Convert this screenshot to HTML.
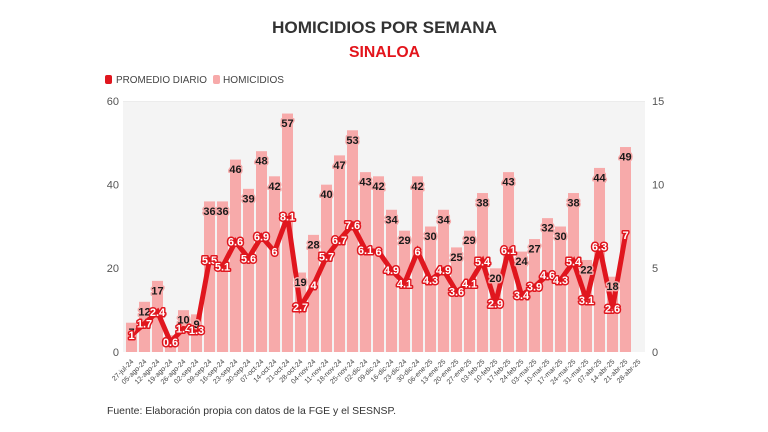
<!DOCTYPE html>
<html><head><meta charset="utf-8"><style>
html,body{margin:0;padding:0;background:#fff;}
svg{display:block;font-family:"Liberation Sans",sans-serif;}
.bl{font-size:11px;font-weight:bold;fill:#1a1a1a;stroke:#f7aaaa;stroke-width:3;paint-order:stroke;stroke-linejoin:round;text-anchor:middle;}
.ll{font-size:11px;font-weight:bold;fill:#fff;stroke:#e0161e;stroke-width:3;paint-order:stroke;stroke-linejoin:round;text-anchor:middle;}
.ax{font-size:11px;fill:#555;}
.xl{font-size:7px;fill:#444;text-anchor:end;}
</style></head><body>
<svg width="768" height="432" viewBox="0 0 768 432" xmlns="http://www.w3.org/2000/svg">
<rect width="768" height="432" fill="#fff"/>
<text x="384.5" y="33" font-size="17" font-weight="bold" fill="#333" text-anchor="middle" textLength="225" lengthAdjust="spacingAndGlyphs">HOMICIDIOS POR SEMANA</text>
<text x="384.5" y="57" font-size="16" font-weight="bold" fill="#e3141b" text-anchor="middle" textLength="71" lengthAdjust="spacingAndGlyphs">SINALOA</text>
<rect x="105" y="75" width="7" height="9" rx="2" fill="#e0161e"/>
<text x="116" y="83" font-size="10" fill="#444" textLength="91" lengthAdjust="spacingAndGlyphs">PROMEDIO DIARIO</text>
<rect x="213" y="75" width="7" height="9" rx="2" fill="#f7aaaa"/>
<text x="223" y="83" font-size="10" fill="#444" textLength="61" lengthAdjust="spacingAndGlyphs">HOMICIDIOS</text>
<rect x="123" y="101" width="522" height="251" fill="#f4f4f4"/>
<g stroke="#ececec" stroke-width="1">
<line x1="123" y1="101.5" x2="645" y2="101.5"/>
</g>
<g class="ax" text-anchor="end">
<text x="119" y="105">60</text><text x="119" y="188.5">40</text><text x="119" y="272">20</text><text x="119" y="356">0</text>
</g>
<g class="ax">
<text x="652" y="105">15</text><text x="652" y="188.5">10</text><text x="652" y="272">5</text><text x="652" y="356">0</text>
</g>
<g fill="#f7aaaa">
<rect x="126" y="322.72" width="11" height="29.28"/>
<rect x="139" y="301.8" width="11" height="50.2"/>
<rect x="152" y="280.88" width="11" height="71.12"/>
<rect x="165" y="335.27" width="11" height="16.73"/>
<rect x="178" y="310.17" width="11" height="41.83"/>
<rect x="191" y="314.35" width="11" height="37.65"/>
<rect x="204" y="201.4" width="11" height="150.6"/>
<rect x="217" y="201.4" width="11" height="150.6"/>
<rect x="230" y="159.57" width="11" height="192.43"/>
<rect x="243" y="188.85" width="11" height="163.15"/>
<rect x="256" y="151.2" width="11" height="200.8"/>
<rect x="269" y="176.3" width="11" height="175.7"/>
<rect x="282" y="113.55" width="11" height="238.45"/>
<rect x="295" y="272.52" width="11" height="79.48"/>
<rect x="308" y="234.87" width="11" height="117.13"/>
<rect x="321" y="184.67" width="11" height="167.33"/>
<rect x="334" y="155.38" width="11" height="196.62"/>
<rect x="347" y="130.28" width="11" height="221.72"/>
<rect x="360" y="172.12" width="11" height="179.88"/>
<rect x="373" y="176.3" width="11" height="175.7"/>
<rect x="386" y="209.77" width="11" height="142.23"/>
<rect x="399" y="230.68" width="11" height="121.32"/>
<rect x="412" y="176.3" width="11" height="175.7"/>
<rect x="425" y="226.5" width="11" height="125.5"/>
<rect x="438" y="209.77" width="11" height="142.23"/>
<rect x="451" y="247.42" width="11" height="104.58"/>
<rect x="464" y="230.68" width="11" height="121.32"/>
<rect x="477" y="193.03" width="11" height="158.97"/>
<rect x="490" y="268.33" width="11" height="83.67"/>
<rect x="503" y="172.12" width="11" height="179.88"/>
<rect x="516" y="251.6" width="11" height="100.4"/>
<rect x="529" y="239.05" width="11" height="112.95"/>
<rect x="542" y="218.13" width="11" height="133.87"/>
<rect x="555" y="226.5" width="11" height="125.5"/>
<rect x="568" y="193.03" width="11" height="158.97"/>
<rect x="581" y="259.97" width="11" height="92.03"/>
<rect x="594" y="167.93" width="11" height="184.07"/>
<rect x="607" y="276.7" width="11" height="75.3"/>
<rect x="620" y="147.02" width="11" height="204.98"/>
</g>
<polyline fill="none" stroke="#e0161e" stroke-width="5" stroke-linejoin="miter" stroke-miterlimit="3" points="131.5,335.27 144.5,323.55 157.5,311.84 170.5,341.96 183.5,328.57 196.5,330.25 209.5,259.97 222.5,266.66 235.5,241.56 248.5,258.29 261.5,236.54 274.5,251.6 287.5,216.46 300.5,306.82 313.5,285.07 326.5,256.62 339.5,239.89 352.5,224.83 365.5,249.93 378.5,251.6 391.5,270.01 404.5,283.39 417.5,251.6 430.5,280.05 443.5,270.01 456.5,291.76 469.5,283.39 482.5,261.64 495.5,303.47 508.5,249.93 521.5,295.11 534.5,286.74 547.5,275.03 560.5,280.05 573.5,261.64 586.5,300.13 599.5,246.58 612.5,308.49 625.5,234.87"/>
<g class="bl">
<text x="131.5" y="332.2" dy=".36em">7</text>
<text x="144.5" y="311.3" dy=".36em">12</text>
<text x="157.5" y="290.4" dy=".36em">17</text>
<text x="183.5" y="319.7" dy=".36em">10</text>
<text x="196.5" y="323.9" dy=".36em">9</text>
<text x="209.5" y="210.9" dy=".36em">36</text>
<text x="222.5" y="210.9" dy=".36em">36</text>
<text x="235.5" y="169.1" dy=".36em">46</text>
<text x="248.5" y="198.4" dy=".36em">39</text>
<text x="261.5" y="160.7" dy=".36em">48</text>
<text x="274.5" y="185.8" dy=".36em">42</text>
<text x="287.5" y="123.1" dy=".36em">57</text>
<text x="300.5" y="282" dy=".36em">19</text>
<text x="313.5" y="244.4" dy=".36em">28</text>
<text x="326.5" y="194.2" dy=".36em">40</text>
<text x="339.5" y="164.9" dy=".36em">47</text>
<text x="352.5" y="139.8" dy=".36em">53</text>
<text x="365.5" y="181.6" dy=".36em">43</text>
<text x="378.5" y="185.8" dy=".36em">42</text>
<text x="391.5" y="219.3" dy=".36em">34</text>
<text x="404.5" y="240.2" dy=".36em">29</text>
<text x="417.5" y="185.8" dy=".36em">42</text>
<text x="430.5" y="236" dy=".36em">30</text>
<text x="443.5" y="219.3" dy=".36em">34</text>
<text x="456.5" y="256.9" dy=".36em">25</text>
<text x="469.5" y="240.2" dy=".36em">29</text>
<text x="482.5" y="202.5" dy=".36em">38</text>
<text x="495.5" y="277.8" dy=".36em">20</text>
<text x="508.5" y="181.6" dy=".36em">43</text>
<text x="521.5" y="261.1" dy=".36em">24</text>
<text x="534.5" y="248.5" dy=".36em">27</text>
<text x="547.5" y="227.6" dy=".36em">32</text>
<text x="560.5" y="236" dy=".36em">30</text>
<text x="573.5" y="202.5" dy=".36em">38</text>
<text x="586.5" y="269.5" dy=".36em">22</text>
<text x="599.5" y="177.4" dy=".36em">44</text>
<text x="612.5" y="286.2" dy=".36em">18</text>
<text x="625.5" y="156.5" dy=".36em">49</text>
</g>
<g class="ll">
<text x="131.5" y="335.27" dy=".36em">1</text>
<text x="144.5" y="323.55" dy=".36em">1.7</text>
<text x="157.5" y="311.84" dy=".36em">2.4</text>
<text x="170.5" y="341.96" dy=".36em">0.6</text>
<text x="183.5" y="328.57" dy=".36em">1.4</text>
<text x="196.5" y="330.25" dy=".36em">1.3</text>
<text x="209.5" y="259.97" dy=".36em">5.5</text>
<text x="222.5" y="266.66" dy=".36em">5.1</text>
<text x="235.5" y="241.56" dy=".36em">6.6</text>
<text x="248.5" y="258.29" dy=".36em">5.6</text>
<text x="261.5" y="236.54" dy=".36em">6.9</text>
<text x="274.5" y="251.6" dy=".36em">6</text>
<text x="287.5" y="216.46" dy=".36em">8.1</text>
<text x="300.5" y="306.82" dy=".36em">2.7</text>
<text x="313.5" y="285.07" dy=".36em">4</text>
<text x="326.5" y="256.62" dy=".36em">5.7</text>
<text x="339.5" y="239.89" dy=".36em">6.7</text>
<text x="352.5" y="224.83" dy=".36em">7.6</text>
<text x="365.5" y="249.93" dy=".36em">6.1</text>
<text x="378.5" y="251.6" dy=".36em">6</text>
<text x="391.5" y="270.01" dy=".36em">4.9</text>
<text x="404.5" y="283.39" dy=".36em">4.1</text>
<text x="417.5" y="251.6" dy=".36em">6</text>
<text x="430.5" y="280.05" dy=".36em">4.3</text>
<text x="443.5" y="270.01" dy=".36em">4.9</text>
<text x="456.5" y="291.76" dy=".36em">3.6</text>
<text x="469.5" y="283.39" dy=".36em">4.1</text>
<text x="482.5" y="261.64" dy=".36em">5.4</text>
<text x="495.5" y="303.47" dy=".36em">2.9</text>
<text x="508.5" y="249.93" dy=".36em">6.1</text>
<text x="521.5" y="295.11" dy=".36em">3.4</text>
<text x="534.5" y="286.74" dy=".36em">3.9</text>
<text x="547.5" y="275.03" dy=".36em">4.6</text>
<text x="560.5" y="280.05" dy=".36em">4.3</text>
<text x="573.5" y="261.64" dy=".36em">5.4</text>
<text x="586.5" y="300.13" dy=".36em">3.1</text>
<text x="599.5" y="246.58" dy=".36em">6.3</text>
<text x="612.5" y="308.49" dy=".36em">2.6</text>
<text x="625.5" y="234.87" dy=".36em">7</text>
</g>
<g class="xl">
<text transform="translate(134,362) rotate(-45)">27-jul-24</text>
<text transform="translate(147,362) rotate(-45)">05-ago-24</text>
<text transform="translate(160,362) rotate(-45)">12-ago-24</text>
<text transform="translate(173,362) rotate(-45)">19-ago-24</text>
<text transform="translate(186,362) rotate(-45)">26-ago-24</text>
<text transform="translate(199,362) rotate(-45)">02-sep-24</text>
<text transform="translate(212,362) rotate(-45)">09-sep-24</text>
<text transform="translate(225,362) rotate(-45)">16-sep-24</text>
<text transform="translate(238,362) rotate(-45)">23-sep-24</text>
<text transform="translate(251,362) rotate(-45)">30-sep-24</text>
<text transform="translate(264,362) rotate(-45)">07-oct-24</text>
<text transform="translate(277,362) rotate(-45)">14-oct-24</text>
<text transform="translate(290,362) rotate(-45)">21-oct-24</text>
<text transform="translate(303,362) rotate(-45)">28-oct-24</text>
<text transform="translate(316,362) rotate(-45)">04-nov-24</text>
<text transform="translate(329,362) rotate(-45)">11-nov-24</text>
<text transform="translate(342,362) rotate(-45)">18-nov-24</text>
<text transform="translate(355,362) rotate(-45)">25-nov-24</text>
<text transform="translate(368,362) rotate(-45)">02-dic-24</text>
<text transform="translate(381,362) rotate(-45)">09-dic-24</text>
<text transform="translate(394,362) rotate(-45)">16-dic-24</text>
<text transform="translate(407,362) rotate(-45)">23-dic-24</text>
<text transform="translate(420,362) rotate(-45)">30-dic-24</text>
<text transform="translate(433,362) rotate(-45)">06-ene-25</text>
<text transform="translate(446,362) rotate(-45)">13-ene-25</text>
<text transform="translate(459,362) rotate(-45)">20-ene-25</text>
<text transform="translate(472,362) rotate(-45)">27-ene-25</text>
<text transform="translate(485,362) rotate(-45)">03-feb-25</text>
<text transform="translate(498,362) rotate(-45)">10-feb-25</text>
<text transform="translate(511,362) rotate(-45)">17-feb-25</text>
<text transform="translate(524,362) rotate(-45)">24-feb-25</text>
<text transform="translate(537,362) rotate(-45)">03-mar-25</text>
<text transform="translate(550,362) rotate(-45)">10-mar-25</text>
<text transform="translate(563,362) rotate(-45)">17-mar-25</text>
<text transform="translate(576,362) rotate(-45)">24-mar-25</text>
<text transform="translate(589,362) rotate(-45)">31-mar-25</text>
<text transform="translate(602,362) rotate(-45)">07-abr-25</text>
<text transform="translate(615,362) rotate(-45)">14-abr-25</text>
<text transform="translate(628,362) rotate(-45)">21-abr-25</text>
<text transform="translate(641,362) rotate(-45)">28-abr-25</text>
</g>
<text x="107" y="414" font-size="10.4" fill="#333" textLength="289" lengthAdjust="spacingAndGlyphs">Fuente: Elaboración propia con datos de la FGE y el SESNSP.</text>
</svg>
</body></html>
